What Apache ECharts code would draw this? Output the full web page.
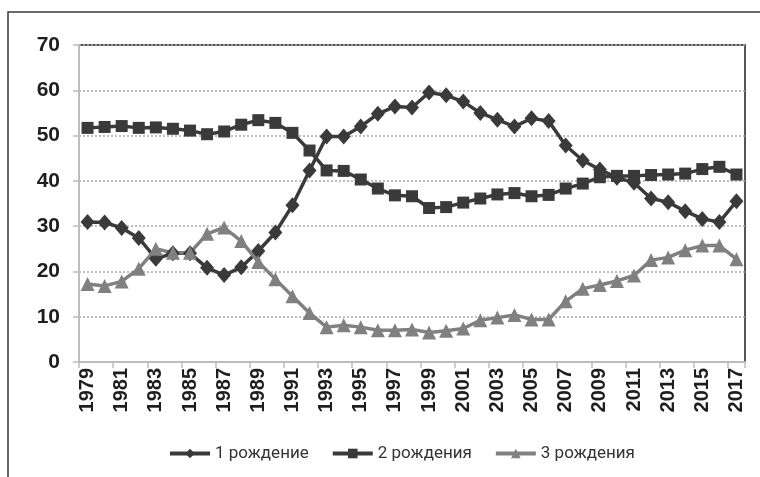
<!DOCTYPE html>
<html>
<head>
<meta charset="utf-8">
<script src="https://cdn.jsdelivr.net/npm/echarts@6/dist/echarts.min.js"></script>
<style>
  html, body { margin: 0; padding: 0; background: #fff; }
  #chart { width: 760px; height: 477px; }
</style>
</head>
<body>
<div id="chart"></div>
<script>
  // годы
  var years = [];
  for (var y = 1979; y <= 2017; y++) years.push(String(y));

  var seriesNames = ['1 рождение', '2 рождения', '3 рождения'];

  var firstBirth = [30.9, 30.8, 29.6, 27.4, 22.8, 24.0, 24.0, 20.8, 19.2, 20.9,
    24.5, 28.6, 34.6, 42.3, 49.8, 49.8, 52.0, 54.8, 56.4, 56.2,
    59.5, 58.9, 57.5, 55.0, 53.5, 52.0, 53.8, 53.2, 47.8, 44.5,
    42.5, 40.7, 39.6, 36.1, 35.3, 33.3, 31.6, 30.9, 35.5];

  var secondBirth = [51.7, 51.9, 52.1, 51.7, 51.8, 51.5, 51.1, 50.3, 50.9, 52.4,
    53.4, 52.8, 50.6, 46.7, 42.3, 42.2, 40.3, 38.3, 36.8, 36.6,
    34.0, 34.2, 35.2, 36.1, 37.0, 37.3, 36.6, 36.9, 38.3, 39.4,
    40.8, 41.1, 41.1, 41.3, 41.4, 41.6, 42.6, 43.1, 41.4];

  var thirdBirth = [17.2, 16.8, 17.8, 20.6, 25.0, 24.1, 24.1, 28.3, 29.7, 26.7,
    22.1, 18.3, 14.5, 10.8, 7.7, 8.1, 7.7, 7.0, 7.0, 7.2,
    6.5, 6.9, 7.4, 9.2, 9.8, 10.4, 9.4, 9.4, 13.4, 16.2,
    17.0, 17.9, 19.1, 22.5, 23.1, 24.7, 25.7, 25.7, 22.7];

  var chart = echarts.init(document.getElementById('chart'));

  function lineSeries(name, data, symbol, size, color) {
    return {
      name: name,
      type: 'line',
      data: data,
      symbol: symbol,
      symbolSize: size,
      showAllSymbol: true,
      lineStyle: { color: color, width: 3.5 },
      itemStyle: { color: color, borderWidth: 0 },
      emphasis: { disabled: true },
      animation: false
    };
  }

  var option = {
    backgroundColor: '#fff',
    animation: false,
    graphic: [{
      type: 'rect',
      shape: { x: 8, y: 12, width: 800, height: 500 },
      style: { fill: 'none', stroke: '#3a3a3a', lineWidth: 1.5 },
      silent: true
    }],
    grid: {
      left: 79, right: 15, top: 45, bottom: 115,
      show: true,
      borderColor: '#555',
      borderWidth: 2,
      backgroundColor: 'transparent'
    },
    legend: {
      bottom: 10,
      left: 163,
      itemWidth: 40,
      itemHeight: 12,
      itemGap: 22,
      lineStyle: { width: 4 },
      textStyle: { fontFamily: 'Roboto', fontSize: 17, color: '#333' },
      data: seriesNames
    },
    xAxis: {
      type: 'category',
      data: years,
      boundaryGap: true,
      axisLine: { lineStyle: { color: '#bdbdbd', width: 2 } },
      axisTick: { show: true, interval: 1, length: 6, lineStyle: { color: '#bdbdbd', width: 1.5 } },
      axisLabel: {
        interval: 1,
        rotate: 90,
        margin: 6,
        fontFamily: 'Liberation Sans, Arial',
        fontWeight: 'bold',
        fontSize: 20,
        color: '#1e1e1e'
      },
      splitLine: { show: false }
    },
    yAxis: {
      type: 'value',
      min: 0,
      max: 70,
      interval: 10,
      axisLine: { show: true, lineStyle: { color: '#bdbdbd', width: 2 } },
      axisTick: { show: true, length: 6, lineStyle: { color: '#bdbdbd', width: 1.5 } },
      axisLabel: {
        margin: 19,
        fontFamily: 'Liberation Sans, Arial',
        fontWeight: 'bold',
        fontSize: 21,
        color: '#1e1e1e'
      },
      splitLine: { lineStyle: { color: '#a8a8a8', type: [2, 2], width: 1.5 } }
    },
    series: [
      lineSeries(seriesNames[0], firstBirth, 'diamond', [14, 16], '#3a3a3a'),
      lineSeries(seriesNames[1], secondBirth, 'rect', 12, '#3a3a3a'),
      lineSeries(seriesNames[2], thirdBirth, 'triangle', 14, '#808080')
    ]
  };

  chart.setOption(option);
</script>
</body>
</html>
